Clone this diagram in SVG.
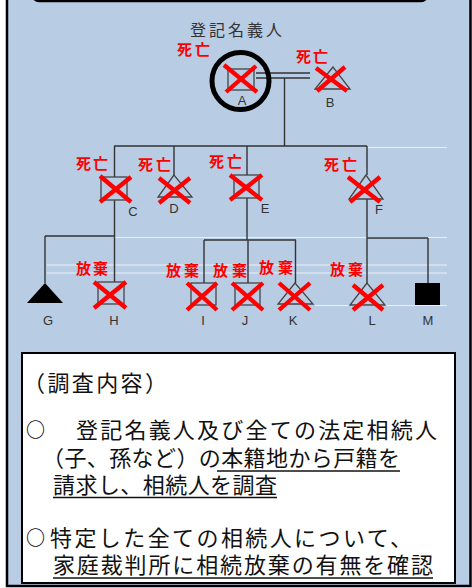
<svg xmlns="http://www.w3.org/2000/svg" width="472" height="588" viewBox="0 0 472 588">
<style>
.ln{stroke:#333;stroke-width:1.4;fill:none}
.sq{stroke:#444;stroke-width:1.3;fill:none}
.x{stroke:#ff0000;stroke-width:4.3;stroke-linecap:butt}
.fx{stroke:#fff;stroke-width:1.2;opacity:0.7}
.red{font-family:"Noto Sans CJK JP",sans-serif;font-weight:bold;font-size:15px;fill:#ff0000}
.lbl{font-family:"Liberation Sans",Arial,sans-serif;font-size:13px;fill:#333;text-anchor:middle}
.bt{font-family:"Noto Sans CJK JP",sans-serif;font-size:22px;fill:#111}
.ci{font-family:"Noto Sans CJK JP",sans-serif;font-size:19px;font-weight:bold;fill:#111}
.ul{stroke:#111;stroke-width:1.6}
</style>
<rect x="7" y="-20" width="463.5" height="606" fill="#b8cce4" stroke="#000" stroke-width="2.5"/>
<rect x="33" y="-30" width="394" height="31" rx="6" fill="#fff" stroke="#000" stroke-width="2.5"/>
<text x="236" y="36" text-anchor="middle" font-family="Noto Sans CJK JP,sans-serif" font-size="16" fill="#333" textLength="92" lengthAdjust="spacing">登記名義人</text>

<g id="faint">
<line class="fx" x1="367" y1="147.5" x2="447" y2="147.5"/>
<line class="fx" x1="114" y1="237.5" x2="447" y2="237.5"/>
<line class="fx" x1="47" y1="265" x2="447" y2="265"/>
<line class="fx" x1="47" y1="273" x2="447" y2="273"/>
<line class="fx" x1="315" y1="305.5" x2="447" y2="305.5"/>
</g>

<g id="connectors">
<line class="ln" x1="256" y1="73" x2="310" y2="73"/>
<line class="ln" x1="256" y1="78" x2="310" y2="78"/>
<line class="ln" x1="284.5" y1="78" x2="284.5" y2="146"/>
<line class="ln" x1="114" y1="146" x2="367" y2="146"/>
<line class="ln" x1="114.5" y1="146" x2="114.5" y2="177"/>
<line class="ln" x1="174" y1="146" x2="174" y2="175"/>
<line class="ln" x1="247" y1="146" x2="247" y2="175"/>
<line class="ln" x1="367" y1="146" x2="367" y2="175"/>
<line class="ln" x1="114.5" y1="200" x2="114.5" y2="282"/>
<line class="ln" x1="45" y1="236" x2="114.5" y2="236"/>
<line class="ln" x1="45" y1="236" x2="45" y2="283"/>
<line class="ln" x1="247" y1="198" x2="247" y2="240"/>
<line class="ln" x1="204" y1="240" x2="296" y2="240"/>
<line class="ln" x1="204" y1="240" x2="204" y2="283"/>
<line class="ln" x1="248" y1="240" x2="248" y2="283"/>
<line class="ln" x1="295.5" y1="240" x2="295.5" y2="283"/>
<line class="ln" x1="367" y1="199" x2="367" y2="283"/>
<line class="ln" x1="367" y1="238" x2="428" y2="238"/>
<line class="ln" x1="428" y1="238" x2="428" y2="283"/>
</g>

<g id="nodeA">
<text class="red" x="177" y="55" textLength="33" lengthAdjust="spacing">死亡</text>
<rect class="sq" x="228" y="69" width="26" height="21"/>
<line class="x" x1="224" y1="65" x2="257" y2="92"/>
<line class="x" x1="226" y1="92" x2="256" y2="66"/>
<circle cx="240.5" cy="81" r="28.5" fill="none" stroke="#000" stroke-width="5"/>
<text class="lbl" x="242" y="105" font-size="14">A</text>
</g>
<g id="nodeB">
<text class="red" x="296" y="62" textLength="32" lengthAdjust="spacing">死亡</text>
<polygon class="sq" points="333,67 315,89 350,89"/>
<line class="x" x1="316" y1="68" x2="347" y2="91"/>
<line class="x" x1="317" y1="91" x2="345" y2="67"/>
<text class="lbl" x="330" y="107" font-size="14">B</text>
</g>
<g id="nodeC">
<text class="red" x="76" y="169" textLength="32" lengthAdjust="spacing">死亡</text>
<rect class="sq" x="101" y="177" width="26" height="23"/>
<line class="x" x1="100" y1="176" x2="131" y2="202"/>
<line class="x" x1="100" y1="202" x2="131" y2="177"/>
<text class="lbl" x="133" y="216" text-anchor="start" font-size="14">C</text>
</g>
<g id="nodeD">
<text class="red" x="138" y="170" textLength="33" lengthAdjust="spacing">死亡</text>
<polygon class="sq" points="174,175 158,197 192,197"/>
<line class="x" x1="159" y1="178" x2="190" y2="203"/>
<line class="x" x1="159" y1="203" x2="190" y2="178"/>
<text class="lbl" x="174" y="213" font-size="14" fill="#777">D</text>
</g>
<g id="nodeE">
<text class="red" x="209" y="167" textLength="33" lengthAdjust="spacing">死亡</text>
<rect class="sq" x="234" y="175" width="25" height="23"/>
<line class="x" x1="230" y1="175" x2="262" y2="200"/>
<line class="x" x1="230" y1="200" x2="262" y2="175"/>
<text class="lbl" x="265" y="213" text-anchor="start" font-size="14">E</text>
</g>
<g id="nodeF">
<text class="red" x="324" y="170" textLength="33" lengthAdjust="spacing">死亡</text>
<polygon class="sq" points="366,175 349,199 383,199"/>
<line class="x" x1="348" y1="177" x2="380" y2="202"/>
<line class="x" x1="350" y1="202" x2="380" y2="177"/>
<text class="lbl" x="379" y="214" text-anchor="start" font-size="14">F</text>
</g>
<g id="nodeG">
<polygon points="45,283 27,303 63,303" fill="#000"/>
<text class="lbl" x="48" y="325">G</text>
</g>
<g id="nodeH">
<text class="red" x="76" y="274" textLength="32" lengthAdjust="spacing">放棄</text>
<rect class="sq" x="98" y="282" width="26" height="22"/>
<line class="x" x1="94" y1="282" x2="126" y2="308"/>
<line class="x" x1="94" y1="308" x2="126" y2="282"/>
<text class="lbl" x="114" y="325">H</text>
</g>
<g id="nodeI">
<text class="red" x="166" y="276" textLength="33" lengthAdjust="spacing">放棄</text>
<rect class="sq" x="191" y="283" width="25" height="22"/>
<line class="x" x1="187" y1="283" x2="217" y2="310"/>
<line class="x" x1="187" y1="310" x2="217" y2="283"/>
<text class="lbl" x="203" y="325">I</text>
</g>
<g id="nodeJ">
<text class="red" x="213" y="276" textLength="34" lengthAdjust="spacing">放棄</text>
<rect class="sq" x="235" y="283" width="25" height="22"/>
<line class="x" x1="232" y1="283" x2="263" y2="310"/>
<line class="x" x1="232" y1="310" x2="263" y2="283"/>
<text class="lbl" x="245" y="325">J</text>
</g>
<g id="nodeK">
<text class="red" x="259" y="273" textLength="34" lengthAdjust="spacing">放棄</text>
<polygon class="sq" points="295,283 278,304 313,304"/>
<line class="x" x1="279" y1="283" x2="310" y2="310"/>
<line class="x" x1="279" y1="310" x2="310" y2="283"/>
<text class="lbl" x="293" y="325">K</text>
</g>
<g id="nodeL">
<text class="red" x="330" y="275" textLength="33" lengthAdjust="spacing">放棄</text>
<polygon class="sq" points="367,283 350,305 385,305"/>
<line class="x" x1="353" y1="285" x2="383" y2="310"/>
<line class="x" x1="353" y1="310" x2="383" y2="285"/>
<text class="lbl" x="372" y="325">L</text>
</g>
<g id="nodeM">
<rect x="415" y="283" width="25" height="22" fill="#000"/>
<text class="lbl" x="428" y="325">M</text>
</g>

<g id="note">
<rect x="22" y="353" width="433" height="230" fill="#fff" stroke="#000" stroke-width="2"/>
<text class="bt" x="23" y="391" textLength="144" lengthAdjust="spacing">（調査内容）</text>
<text class="ci" x="26" y="437">○</text>
<text class="bt" x="76" y="438" textLength="361" lengthAdjust="spacing">登記名義人及び全ての法定相続人</text>
<text class="bt" x="42" y="466" textLength="358" lengthAdjust="spacing">（子、孫など）の本籍地から戸籍を</text>
<text class="bt" x="53" y="493" textLength="224" lengthAdjust="spacing">請求し、相続人を調査</text>
<text class="ci" x="26" y="545">○</text>
<text class="bt" x="50" y="546" textLength="362" lengthAdjust="spacing">特定した全ての相続人について、</text>
<text class="bt" x="53" y="573" textLength="380" lengthAdjust="spacing">家庭裁判所に相続放棄の有無を確認</text>
<line class="ul" x1="217" y1="471" x2="400" y2="471"/>
<line class="ul" x1="53" y1="497.5" x2="277" y2="497.5"/>
<line class="ul" x1="53" y1="578" x2="433" y2="578"/>
</g>
</svg>
